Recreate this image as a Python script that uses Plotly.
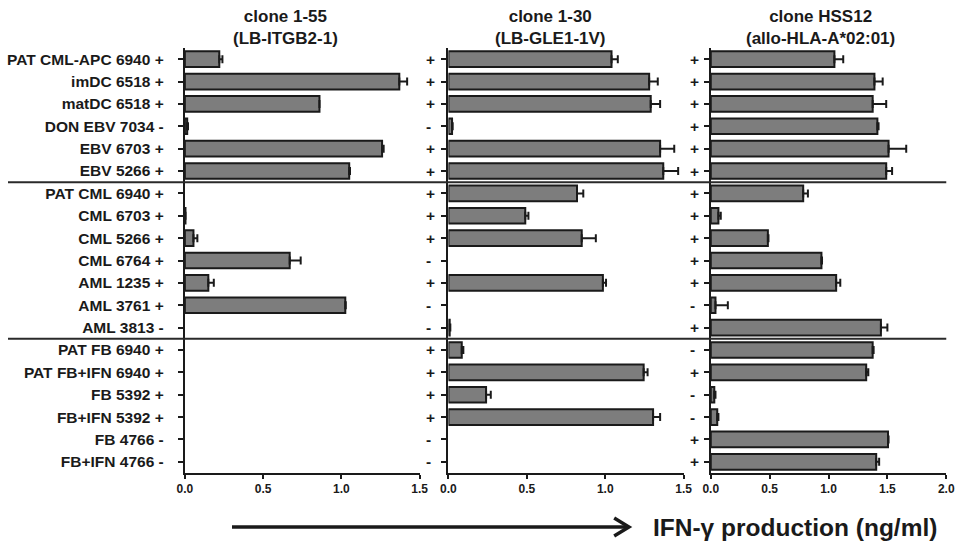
import plotly.graph_objects as go

# Stimulator cells (rows, top to bottom)
cells = [
    "PAT CML-APC 6940", "imDC 6518", "matDC 6518", "DON EBV 7034", "EBV 6703", "EBV 5266",
    "PAT CML 6940", "CML 6703", "CML 5266", "CML 6764", "AML 1235", "AML 3761", "AML 3813",
    "PAT FB 6940", "PAT FB+IFN 6940", "FB 5392", "FB+IFN 5392", "FB 4766", "FB+IFN 4766",
]

# Antigen status per clone
sign_155 = ["+", "+", "+", "-", "+", "+", "+", "+", "+", "+", "+", "+", "-",
            "+", "+", "+", "+", "-", "-"]
sign_130 = ["+", "+", "+", "-", "+", "+", "+", "+", "+", "-", "+", "-", "-",
            "+", "+", "+", "+", "-", "-"]
sign_hss = ["+", "+", "+", "+", "+", "+", "+", "+", "+", "+", "+", "-", "+",
            "-", "+", "-", "-", "+", "+"]

# IFN-gamma production (ng/ml) and SD
val_155 = [0.22, 1.37, 0.86, 0.015, 1.26, 1.05, 0, 0.004, 0.055, 0.67, 0.15, 1.025, 0,
           0, 0, 0, 0, 0, 0]
err_155 = [0.02, 0.05, 0.0, 0.005, 0.01, 0.005, 0, 0, 0.025, 0.07, 0.035, 0.003, 0,
           0, 0, 0, 0, 0, 0]
val_130 = [1.04, 1.28, 1.29, 0.023, 1.35, 1.37, 0.82, 0.49, 0.85, 0, 0.985, 0, 0.008,
           0.085, 1.245, 0.24, 1.305, 0, 0]
err_130 = [0.04, 0.055, 0.06, 0.004, 0.09, 0.095, 0.04, 0.02, 0.09, 0, 0.02, 0, 0.004,
           0.01, 0.025, 0.03, 0.045, 0, 0]
val_hss = [1.05, 1.39, 1.375, 1.415, 1.51, 1.49, 0.785, 0.065, 0.485, 0.94, 1.065, 0.04, 1.445,
           1.375, 1.32, 0.03, 0.055, 1.505, 1.405]
err_hss = [0.075, 0.07, 0.115, 0.01, 0.15, 0.05, 0.04, 0.02, 0.005, 0.005, 0.035, 0.105, 0.055,
           0.008, 0.018, 0.01, 0.01, 0.005, 0.025]

titles = ["clone 1-55<br>(LB-ITGB2-1)", "clone 1-30<br>(LB-GLE1-1V)",
          "clone HSS12<br>(allo-HLA-A*02:01)"]
x_max = [1.5, 1.5, 2.0]
x_ticks = [[0, 0.5, 1.0, 1.5], [0, 0.5, 1.0, 1.5], [0, 0.5, 1.0, 1.5, 2.0]]
group_breaks = [5.5, 12.5]

W, H = 970, 546
FONT = "Liberation Sans, Arial, sans-serif"
INK = "#1a1a1a"

def px_x(p):
    return p / W

def px_y(p):
    return 1 - p / H

domains = [(px_x(180), px_x(419)), (px_x(448.3), px_x(687.7)), (px_x(715.3), px_x(955))]
y_dom = (px_y(473), px_y(48))
title_pos = [0.427, 0.432, 0.466]
sign_cols = [None, px_x(423), px_x(692)]

rows = list(range(len(cells)))
labels_155 = [f"{c} {s}" for c, s in zip(cells, sign_155)]
signs = [sign_155, sign_130, sign_hss]
values = [val_155, val_130, val_hss]
errors = [err_155, err_130, err_hss]

fig = go.Figure()
layout = dict(
    width=W, height=H, margin=dict(l=0, r=0, t=0, b=0),
    paper_bgcolor="white", plot_bgcolor="white", showlegend=False,
    font=dict(family=FONT, color=INK),
    bargap=0.3,
)

annotations = []
for i in range(3):
    sfx = "" if i == 0 else str(i + 1)
    # rows without a response get neither bar nor whisker
    bar_x = [v if v > 0 else None for v in values[i]]
    err_plus = [e if v > 0 else None for v, e in zip(values[i], errors[i])]
    fig.add_trace(go.Bar(
        x=bar_x, y=rows, orientation="h",
        xaxis="x" + sfx, yaxis="y" + sfx,
        marker=dict(color="#7d7d7d", line=dict(color=INK, width=2)),
        error_x=dict(type="data", array=err_plus, symmetric=False,
                     arrayminus=[None] * len(rows), color=INK, thickness=2, width=4),
        hoverinfo="skip",
    ))
    layout["xaxis" + sfx] = dict(
        domain=list(domains[i]), anchor="y" + sfx, range=[0, x_max[i]],
        tickvals=x_ticks[i], tickformat=".1f",
        showline=True, linewidth=2, linecolor=INK, mirror=False,
        ticks="outside", ticklen=4, tickwidth=1.5, tickcolor=INK,
        tickfont=dict(size=12, weight="bold", color=INK, family=FONT),
        showgrid=False, zeroline=False, fixedrange=True,
    )
    layout["yaxis" + sfx] = dict(
        domain=list(y_dom), anchor="x" + sfx, range=[len(rows) - 0.5, -0.5],
        tickvals=rows, ticktext=labels_155 if i == 0 else None,
        showticklabels=(i == 0),
        showline=True, linewidth=2, linecolor=INK,
        ticks="outside", ticklen=5, tickwidth=1.5, tickcolor=INK,
        ticklabelstandoff=11,
        tickfont=dict(size=15.5, weight="bold", color=INK, family=FONT),
        showgrid=False, zeroline=False, fixedrange=True,
    )
    annotations.append(dict(
        text=titles[i], xref=f"x{sfx} domain", yref="paper",
        x=title_pos[i], y=px_y(27.5), xanchor="center", yanchor="middle",
        showarrow=False, align="center",
        font=dict(size=17, weight="bold", color=INK, family=FONT),
    ))
    # antigen status column in front of the second and third panels
    if i > 0:
        for r, s in zip(rows, signs[i]):
            annotations.append(dict(
                text=s, xref="paper", yref="y" + sfx, x=sign_cols[i], y=r,
                xanchor="left", yanchor="middle", showarrow=False,
                font=dict(size=15.5, weight="bold", color=INK, family=FONT),
            ))

# Axis caption with arrow
annotations.append(dict(
    text="IFN-γ production (ng/ml)", xref="paper", yref="paper",
    x=px_x(654), y=px_y(527), xanchor="left", yanchor="middle", showarrow=False,
    font=dict(size=24.5, weight="bold", color=INK, family=FONT),
))

shapes = []
for yb in group_breaks:
    shapes.append(dict(type="line", xref="paper", yref="y", x0=0, x1=px_x(955),
                       y0=yb, y1=yb, line=dict(color="#2a2a2a", width=2), layer="above"))
shapes.append(dict(type="line", xref="paper", yref="paper",
                   x0=px_x(228), x1=px_x(631), y0=px_y(527), y1=px_y(527),
                   line=dict(color=INK, width=3.5)))
shapes.append(dict(type="path", xref="paper", yref="paper",
                   path=(f"M {px_x(617)},{px_y(518)} L {px_x(632)},{px_y(527)} "
                         f"L {px_x(617)},{px_y(536)}"),
                   line=dict(color=INK, width=3.5)))

layout["annotations"] = annotations
layout["shapes"] = shapes
fig.update_layout(**layout)
fig.write_html("out.html")
